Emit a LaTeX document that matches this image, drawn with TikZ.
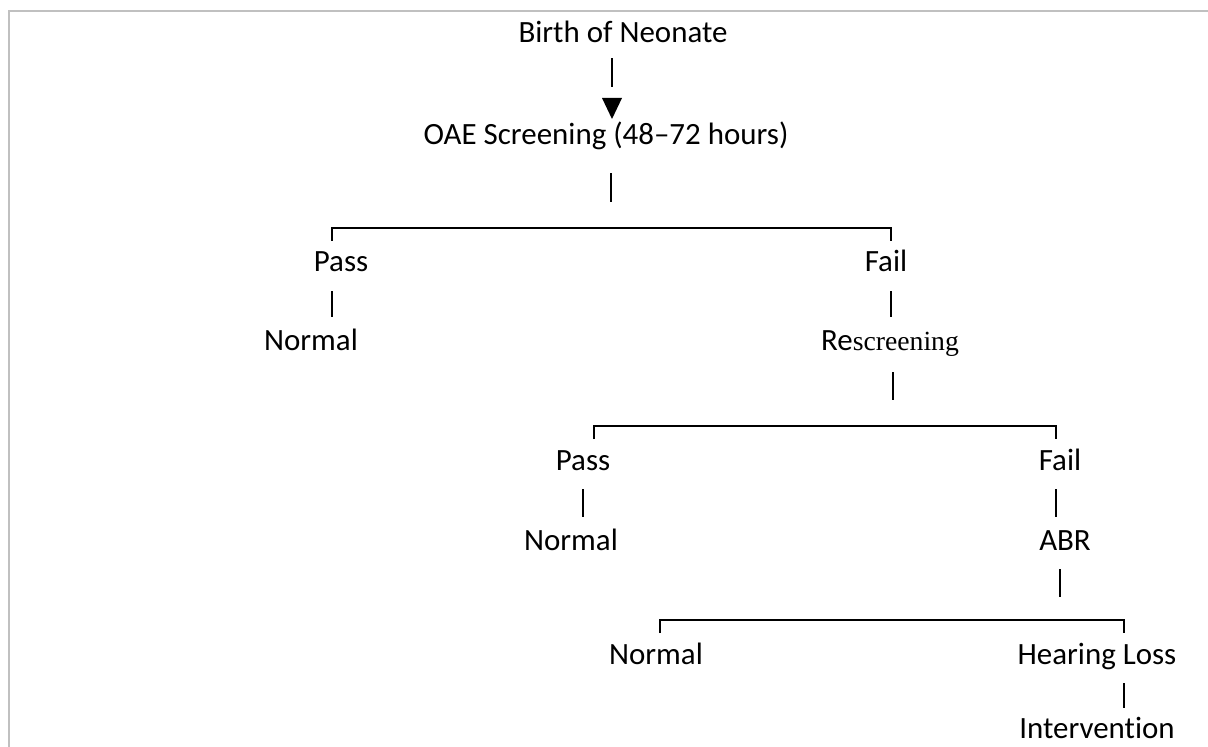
\documentclass[tikz,border=0pt]{standalone}
\usepackage{fontspec}
\setmainfont{Carlito}[Ligatures={TeX,NoCommon}]
\newfontfamily\serifpart{Liberation Serif}
\usetikzlibrary{calc}
\definecolor{framegray}{HTML}{C0C0C0}

\begin{document}
\begin{tikzpicture}[x=0.025cm, y=-0.025cm,
  word/.style={anchor=base, inner sep=0pt, text height=14pt, text depth=5pt,
               font=\fontsize{22}{26}\selectfont},
  bar/.style={line width=1.1pt, shorten <=0.3cm, shorten >=0.32cm},
  fork/.style={line width=0.9pt}
]
\useasboundingbox (0,0) rectangle (1208,747);
\draw[framegray, line width=1.4pt] (9,747) -- (9,11) -- (1208,11);

% first screening
\node[word]    (birth)   at (623,43)    {Birth of Neonate};
\coordinate (tip) at (612,98);
\node[word]    (oae)     at (606,145)   {OAE Screening (48--72 hours)};
\coordinate (fork1)   at (611,228);
\coordinate (split1l) at (332,228);
\coordinate (split1r) at (891,228);
\node[word]    (pass1)   at (341,272)   {Pass};
\node[word]    (fail1)   at (886,272)   {Fail};
\node[word]    (normal1) at (311,350)   {Normal};
\node[word]    (resc)    at (890,350)   {Re{\serifpart\fontsize{19.7}{23}\selectfont screening}};

% rescreening
\coordinate (fork2)   at (893,426);
\coordinate (split2l) at (594,426);
\coordinate (split2r) at (1056,426);
\node[word]    (pass2)   at (583,470)   {Pass};
\node[word]    (fail2)   at (1060,470)  {Fail};
\node[word]    (normal2) at (571,550)   {Normal};
\node[word]    (abr)     at (1065,550)  {ABR};

% ABR
\coordinate (fork3)   at (1060,620);
\coordinate (split3l) at (660,620);
\coordinate (split3r) at (1124,620);
\node[word]    (normal3) at (656,664)   {Normal};
\node[word]    (hl)      at (1097,664)  {Hearing Loss};
\node[word]    (interv)  at (1097,738)  {Intervention};

\draw[bar, shorten <=0.2cm, shorten >=0.275cm] (birth.south -| tip) -- (tip);
\fill (tip) ++(-10,0) -- ++(20,0) -- ++(-10,21) -- cycle;
\draw[bar, shorten <=0.525cm, shorten >=0.65cm] (oae.south -| fork1) -- (fork1);
\draw[fork] (split1l) ++(0,13) -- (split1l) -- (split1r) -- ++(0,13);
\draw[bar] (pass1.south -| split1l) -- (normal1.north -| split1l);
\draw[bar] (fail1.south -| split1r) -- (resc.north -| split1r);

\draw[bar, shorten <=0.375cm, shorten >=0.65cm] (resc.south -| fork2) -- (fork2);
\draw[fork] (split2l) ++(0,13) -- (split2l) -- (split2r) -- ++(0,13);
\draw[bar] (pass2.south) -- (pass2.south |- normal2.north);
\draw[bar] (fail2.south -| split2r) -- (abr.north -| split2r);

\draw[bar, shorten <=0.3cm, shorten >=0.575cm] (abr.south -| fork3) -- (fork3);
\draw[fork] (split3l) ++(0,13) -- (split3l) -- (split3r) -- ++(0,13);
\draw[bar, shorten >=0.25cm] (hl.south -| split3r) -- (interv.north -| split3r);
\end{tikzpicture}
\end{document}
